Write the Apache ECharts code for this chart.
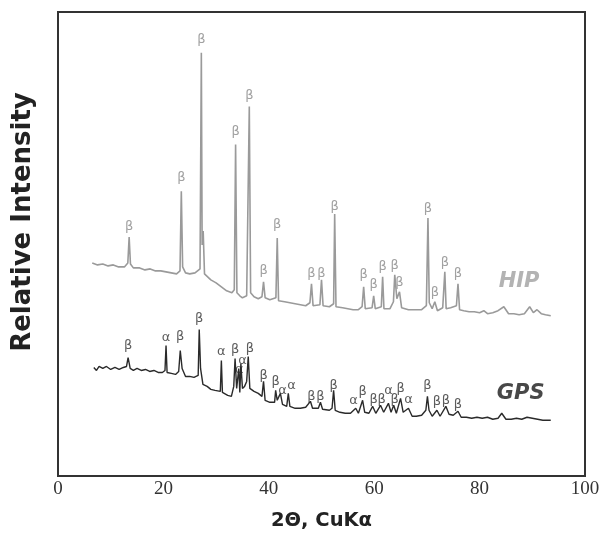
<!DOCTYPE html>
<html><head><meta charset="utf-8">
<script src="https://cdn.jsdelivr.net/npm/echarts@6/dist/echarts.min.js"></script>
<style>html,body{margin:0;padding:0;background:#fff}#c{width:604px;height:536px}</style>
</head><body><div id="c"></div>
<script>
// x tick labels
const xTicks = [0, 20, 40, 60, 80, 100];

// HIP pattern: [2theta, intensity (arb.)]
const hipData = [
[6.5,214],[7.5,212],[8.5,213],[9.5,211],[10.5,212],[11.5,210],[12.6,210],[13.25,214],[13.5,240],[13.75,213],[14.3,209],[15.5,209],[16.5,207],[17.5,208],[18.5,206],[19.5,206],[20.5,205],[21.5,204],[22.5,203],[23.15,206],[23.4,286],[23.65,210],[24.2,204],[25,203],[26,204],[26.95,208],[27.2,425],[27.35,232],[27.55,246],[27.8,203],[29,197],[30,194],[31,190],[32,186],[33,184],[33.45,187],[33.7,333],[33.95,184],[34.5,181],[35,179],[35.8,181],[36.05,183],[36.3,371],[36.55,184],[37.2,180],[38,178],[38.7,180],[39.0,195],[39.3,179],[40.2,177],[41.35,179],[41.6,239],[41.85,176],[43,175],[44,174],[45,173],[46,172],[47,171],[47.8,174],[48.1,193],[48.4,171],[49.7,172],[50.0,197],[50.3,171],[51.5,170],[52.3,173],[52.5,263],[52.75,170],[54,169],[55,168],[56,167],[57,167],[57.7,170],[58.0,190],[58.3,168],[59.6,169],[59.9,181],[60.2,168],[61.35,170],[61.6,200],[61.85,168],[63,168],[63.65,175],[63.9,202],[64.3,178],[64.8,185],[65.2,169],[66.5,167],[68,167],[69,167],[69.9,171],[70.2,259],[70.45,174],[71.0,168],[71.5,175],[72.0,166],[73.0,169],[73.2,170],[73.4,205],[73.65,168],[74.5,169],[75.6,171],[75.9,193],[76.2,167],[77,166],[78,165],[79,165],[80,164],[80.8,166],[81.5,163],[82.5,164],[83.5,166],[84.6,170],[85.5,163],[86.5,163],[87.5,162],[88.5,163],[89.5,170],[90.2,164],[90.9,167],[91.7,163],[92.5,162],[93.5,161]
];

// GPS pattern: [2theta, intensity (arb.)]
const gpsData = [
[6.8,109],[7.3,106],[7.8,110],[8.5,108],[9.2,110],[10,107],[10.8,109],[11.6,107],[12.4,109],[13.0,110],[13.3,119],[13.7,108],[14.3,106],[15,108],[15.8,106],[16.6,107],[17.4,105],[18.2,106],[19.0,104],[19.8,104],[20.3,106],[20.5,131],[20.7,104],[21.5,103],[22.3,102],[22.9,105],[23.2,126],[23.55,108],[24.2,100],[25,100],[25.8,99],[26.6,101],[26.8,147],[27.05,108],[27.5,92],[28.3,90],[29,87],[29.8,86],[30.8,85],[31.0,116],[31.2,84],[32.2,81],[32.9,80],[33.35,90],[33.6,118],[33.9,88],[34.3,108],[34.5,84],[34.7,113],[35.0,88],[35.4,90],[35.8,95],[36.1,120],[36.4,88],[37.2,85],[38,83],[38.7,80],[39.0,95],[39.3,76],[40.2,74],[41.1,74],[41.3,86],[41.6,76],[42.2,83],[42.6,72],[43.4,70],[43.7,83],[44.0,70],[45,68],[46,68],[47,69],[47.9,75],[48.3,68],[49.4,68],[49.8,74],[50.2,67],[51.5,66],[52.0,68],[52.3,86],[52.6,66],[53.5,64],[54.5,63],[55.5,63],[56.5,68],[57.0,63],[57.8,76],[58.2,64],[59.0,63],[59.7,70],[60.3,63],[61.2,71],[61.8,64],[62.7,73],[63.2,64],[63.7,71],[64.2,63],[65.0,78],[65.5,64],[66.5,68],[67.2,60],[68,60],[69,61],[69.8,66],[70.1,80],[70.4,66],[71.0,60],[71.9,66],[72.5,60],[73.6,70],[74.2,62],[75,61],[75.9,65],[76.5,59],[77.5,59],[78.5,58],[79.5,59],[80.5,58],[81.5,59],[82.5,57],[83.5,58],[84.2,63],[85,57],[86,57],[87,58],[88,57],[89,59],[90,58],[91,57],[92,56],[93.5,56]
];

// Phase labels: [2theta, label height, phase]
const hipLabels = [
[13.5,250,'β'],[23.4,300,'β'],[27.2,438,'β'],[33.7,346,'β'],[36.3,382,'β'],[39.0,206,'β'],[41.6,252,'β'],[48.1,203,'β'],[50.0,203,'β'],[52.5,271,'β'],[58.0,202,'β'],[59.9,192,'β'],[61.6,210,'β'],[63.9,211,'β'],[64.8,194,'β'],[70.2,269,'β'],[71.5,184,'β'],[73.4,214,'β'],[75.9,203,'β']
];
const gpsLabels = [
[13.3,131,'β'],[20.5,139,'α'],[23.2,140,'β'],[26.8,158,'β'],[31.0,125,'α'],[33.6,127,'β'],[36.4,128,'β'],[35.0,116,'α'],[34.4,107,'α'],[39.0,101,'β'],[41.3,95,'β'],[42.6,86,'α'],[44.3,91,'α'],[48.1,80,'β'],[49.8,80,'β'],[52.3,91,'β'],[56.1,76,'α'],[57.8,85,'β'],[59.9,77,'β'],[61.4,77,'β'],[62.7,86,'α'],[63.9,77,'β'],[65.0,88,'β'],[66.5,77,'α'],[70.1,91,'β'],[71.9,75,'β'],[73.6,76,'β'],[75.9,72,'β']
];
const sampleNames = [[87.5,195,'HIP'],[87.8,83,'GPS']];

const chart = echarts.init(document.getElementById('c'), null, {renderer:'canvas'});
const labelSeries = (data, color) => ({
  type:'scatter', data: data.map(d=>({value:[d[0],d[1]], name:d[2]})), symbolSize:0, silent:true,
  label:{show:true, position:'inside', formatter:p=>p.name, color:color, fontSize:13, fontFamily:'DejaVu Sans'}
});
chart.setOption({
  animation:false,
  grid:{left:58, right:19, top:12, bottom:58, show:true, borderColor:'#333', borderWidth:2, backgroundColor:'transparent'},
  xAxis:{type:'value', min:0, max:100, interval:20,
    axisLine:{show:true, lineStyle:{color:'#333', width:2}}, axisTick:{show:false}, splitLine:{show:false},
    axisLabel:{fontFamily:'Liberation Serif', fontSize:19, color:'#333', margin:4,
      formatter:v=> xTicks.includes(v) ? String(v) : ''},
    name:'2Θ, CuKα', nameLocation:'middle', nameGap:35,
    nameTextStyle:{fontFamily:'DejaVu Sans', fontWeight:'bold', fontSize:19.5, color:'#222'}},
  yAxis:{type:'value', min:0, max:466,
    axisLine:{show:true, lineStyle:{color:'#333', width:2}}, axisTick:{show:false}, axisLabel:{show:false}, splitLine:{show:false},
    name:'Relative Intensity', nameLocation:'middle', nameGap:22,
    nameTextStyle:{fontFamily:'DejaVu Sans', fontWeight:'bold', fontSize:26, color:'#222', padding:[0,0,0,44]}},
  series:[
    {type:'line', data:hipData, showSymbol:false, lineStyle:{color:'#9a9a9a', width:1.6}, silent:true},
    {type:'line', data:gpsData, showSymbol:false, lineStyle:{color:'#2a2a2a', width:1.4}, silent:true},
    labelSeries(hipLabels, '#8a8a8a'),
    labelSeries(gpsLabels, '#333'),
    {type:'scatter', symbolSize:0, silent:true,
      data:sampleNames.map((d,i)=>({value:[d[0],d[1]], name:d[2],
        label:{color: i===0 ? '#a0a0a0' : '#1a1a1a'}})),
      label:{show:true, position:'inside', formatter:p=>p.name, fontSize:21, fontStyle:'italic', fontWeight:'bold', fontFamily:'DejaVu Sans'}}
  ]
});
</script></body></html>
